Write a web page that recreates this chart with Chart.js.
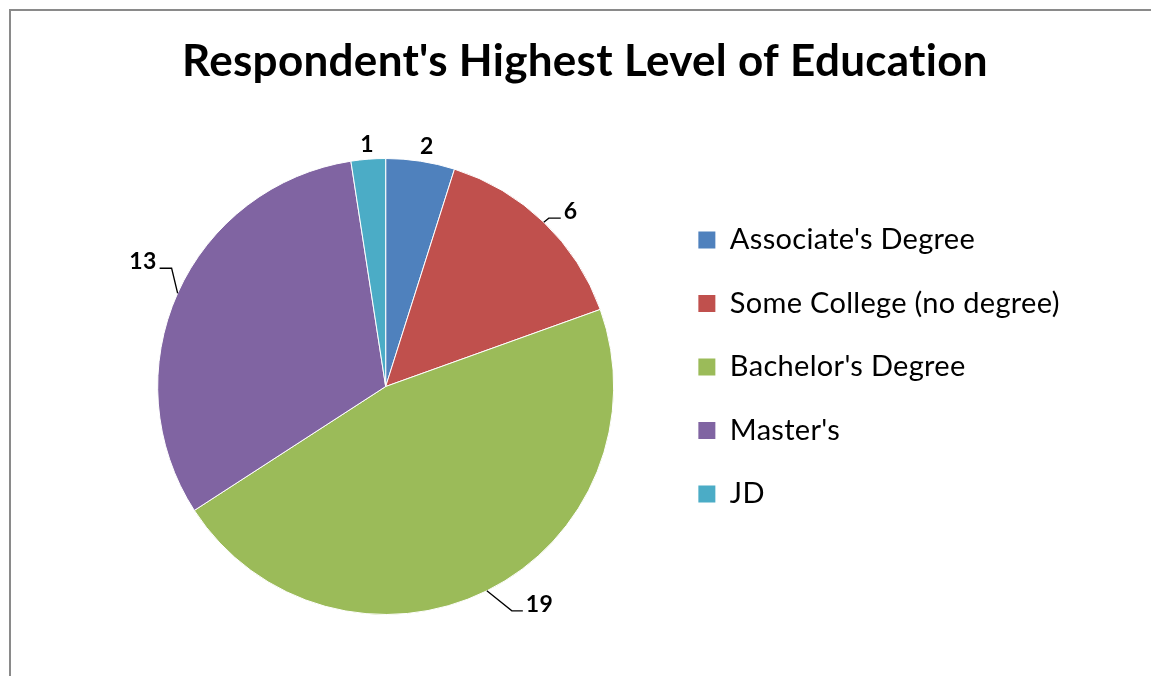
<!DOCTYPE html>
<html>
<head>
<meta charset="utf-8">
<script src="https://cdn.jsdelivr.net/npm/chart.js@4/dist/chart.umd.min.js"></script>
<style>
  html, body { margin: 0; padding: 0; background: #fff; }
  #wrap { position: relative; width: 1151px; height: 676px; }
</style>
</head>
<body>
<div id="wrap"><canvas id="c" width="1151" height="676"></canvas></div>
<script>
const titleText = "Respondent's Highest Level of Education";
const categories = ["Associate's Degree", "Some College (no degree)", "Bachelor's Degree", "Master's", "JD"];
const counts = [2, 6, 19, 13, 1];
const sliceColors = ["#4F81BD", "#C0504D", "#9BBB59", "#8064A2", "#4BACC6"];

// per-label placement style (leader elbows relative to slice edge)
const labelStyles = [
  { dist: 15, dx: 4 },
  { elbow: [5, -4], run: 12 },
  { elbow: [25, 20], run: 11 },
  { elbow: [-6, -25], run: -12 },
  { dist: 15, dx: 0 }
];

const frame = {
  id: 'frame',
  beforeDraw(chart) {
    const ctx = chart.ctx;
    ctx.save();
    ctx.fillStyle = '#fff';
    ctx.fillRect(0, 0, chart.width, chart.height);
    ctx.strokeStyle = '#8a8a8a';
    ctx.lineWidth = 2;
    ctx.beginPath();
    ctx.moveTo(10, chart.height);
    ctx.lineTo(10, 10);
    ctx.lineTo(chart.width, 10);
    ctx.stroke();
    ctx.restore();
    // slight tracking, which also avoids the "ti" ligature
    if ('letterSpacing' in ctx) ctx.letterSpacing = '0.3px';
  }
};

const dataLabels = {
  id: 'dataLabels',
  afterDatasetsDraw(chart) {
    const ctx = chart.ctx;
    const meta = chart.getDatasetMeta(0);
    const values = chart.data.datasets[0].data;
    ctx.save();
    ctx.font = 'bold 23px Lato';
    ctx.fillStyle = '#000';
    ctx.strokeStyle = '#000';
    ctx.lineWidth = 1.3;
    meta.data.forEach((arc, i) => {
      const p = arc.getProps(['x', 'y', 'startAngle', 'endAngle', 'outerRadius'], true);
      const mid = (p.startAngle + p.endAngle) / 2;
      const st = labelStyles[i];
      const txt = String(values[i]);
      if (st.elbow) {
        const ex = p.x + Math.cos(mid) * p.outerRadius;
        const ey = p.y + Math.sin(mid) * p.outerRadius;
        const bx = ex + st.elbow[0];
        const by = ey + st.elbow[1];
        const hx = bx + st.run;
        ctx.beginPath();
        ctx.moveTo(ex, ey);
        ctx.lineTo(bx, by);
        ctx.lineTo(hx, by);
        ctx.stroke();
        ctx.textBaseline = 'alphabetic';
        if (st.run >= 0) {
          ctx.textAlign = 'left';
          ctx.fillText(txt, hx + 3, by + 1);
        } else {
          ctx.textAlign = 'right';
          ctx.fillText(txt, hx - 3, by + 1);
        }
      } else {
        const r = p.outerRadius + st.dist;
        ctx.textAlign = 'center';
        ctx.textBaseline = 'middle';
        ctx.fillText(txt, p.x + Math.cos(mid) * r + st.dx, p.y + Math.sin(mid) * r);
      }
    });
    ctx.restore();
  }
};

new Chart(document.getElementById('c'), {
  type: 'pie',
  data: {
    labels: categories,
    datasets: [{
      data: counts,
      backgroundColor: sliceColors,
      borderColor: '#ffffff',
      borderWidth: 1,
      hoverOffset: 0,
      offset: 0,
      radius: 228
    }]
  },
  options: {
    responsive: false,
    animation: false,
    events: [],
    layout: { padding: { left: 107.5, right: 88.5, top: 10, bottom: 94 } },
    plugins: {
      title: {
        display: true,
        text: titleText,
        color: '#000',
        font: { family: 'Lato', size: 44, weight: 'bold', lineHeight: 1.2 },
        padding: { top: 25.6, bottom: 102.6 }
      },
      legend: {
        display: true,
        position: 'right',
        align: 'start',
        fullSize: false,
        labels: {
          color: '#000',
          font: { family: 'Lato', size: 29 },
          boxWidth: 17,
          boxHeight: 17,
          padding: 34.5,
          generateLabels(chart) {
            const items = Chart.overrides.pie.plugins.legend.labels.generateLabels(chart);
            items.forEach(it => { it.lineWidth = 0; it.strokeStyle = 'rgba(0,0,0,0)'; });
            return items;
          }
        }
      },
      tooltip: { enabled: false }
    }
  },
  plugins: [frame, dataLabels]
});
</script>
</body>
</html>
